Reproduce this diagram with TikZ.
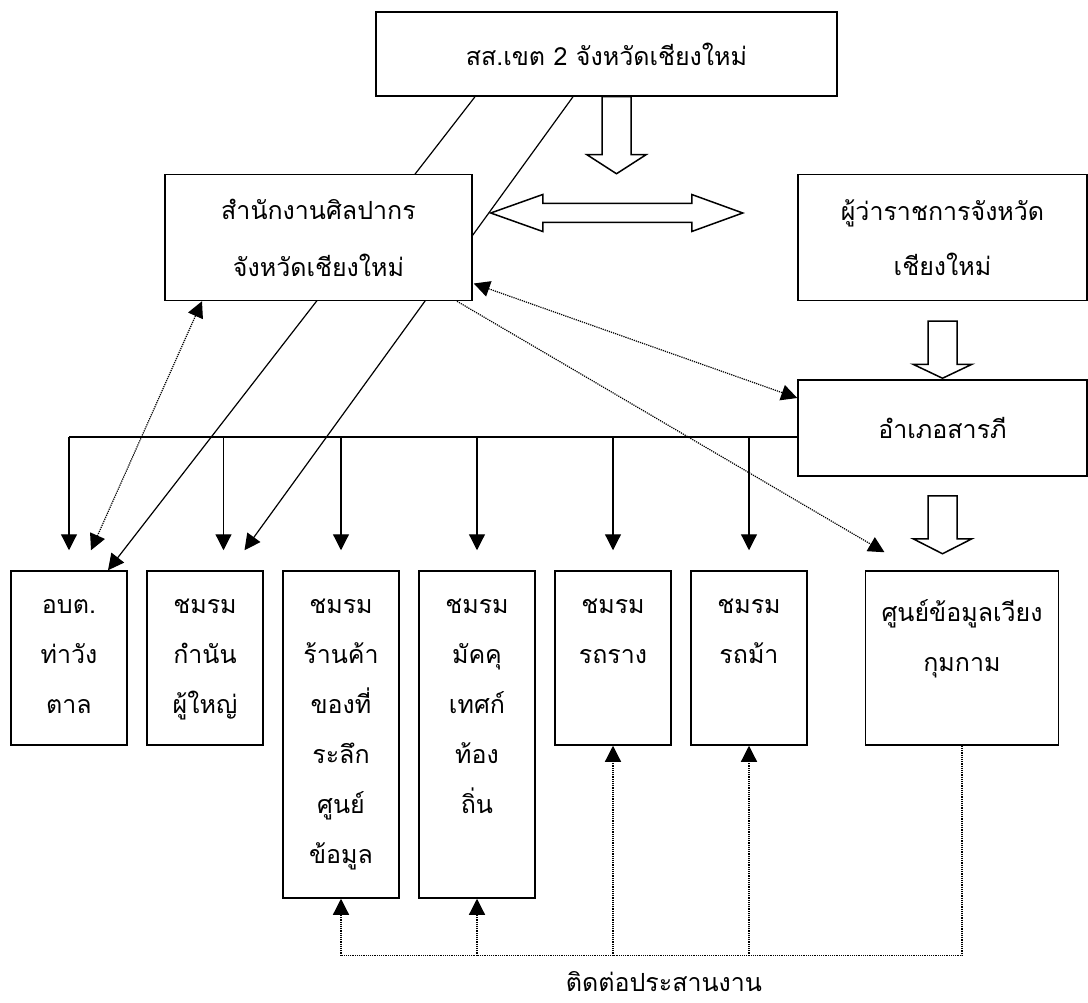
\documentclass[tikz,border=0pt]{standalone}
\usepackage{fontspec}
\newfontfamily\thaifont[Script=Thai]{Loma}
\usetikzlibrary{positioning, arrows.meta, backgrounds, calc}

\tikzset{
  box/.style={draw, line width=1.5pt, fill=white, align=center},
  club/.style={box, minimum width=116pt, minimum height=174pt, anchor=north},
  tallclub/.style={club, minimum height=327pt},
  clubtext/.style={anchor=north, align=center, inner sep=0pt, yshift=-29pt},
  link/.style={line width=1.2pt, ->},
  drop/.style={link, shorten >=20pt},
  coord/.style={line width=1.2pt, densely dotted},
  block/.style={draw, line width=1.5pt, fill=white},
}

\begin{document}
\begin{tikzpicture}[>={Triangle[length=16pt, width=16pt]}, font=\thaifont\fontsize{25}{50}\selectfont]
    \useasboundingbox (0,0) rectangle (1088pt,-1003pt);

    \node[box, minimum width=461pt, minimum height=84pt] (sso) at (606.5pt,-54pt) {สส.เขต 2 จังหวัดเชียงใหม่};

    \node[box, minimum width=307pt, minimum height=126pt, below=77pt of sso, xshift=-288pt, font=\thaifont\fontsize{25}{57}\selectfont] (office) {สำนักงานศิลปากร\\จังหวัดเชียงใหม่};
    \node[box, minimum width=289pt, minimum height=126pt, below=77pt of sso, xshift=336pt, font=\thaifont\fontsize{25}{55}\selectfont] (governor) {ผู้ว่าราชการจังหวัด\\เชียงใหม่};
    \node[box, minimum width=289pt, minimum height=96pt, below=78pt of governor] (district) {อำเภอสารภี};

    \node[club, below=269pt of office, xshift=-249.5pt, label={[clubtext]north:อบต.\\ท่าวัง\\ตาล}] (obt) {};
    \node[club, right=18.5pt of obt.north east, anchor=north west, label={[clubtext]north:ชมรม\\กำนัน\\ผู้ใหญ่}] (kamnan) {};
    \node[tallclub, right=18.5pt of kamnan.north east, anchor=north west, label={[clubtext]north:ชมรม\\ร้านค้า\\ของที่\\ระลึก\\ศูนย์\\ข้อมูล}] (shop) {};
    \node[tallclub, right=18.5pt of shop.north east, anchor=north west, label={[clubtext]north:ชมรม\\มัคคุ\\เทศก์\\ท้อง\\ถิ่น}] (guide) {};
    \node[club, right=18.5pt of guide.north east, anchor=north west, label={[clubtext]north:ชมรม\\รถราง}] (tram) {};
    \node[club, right=18.5pt of tram.north east, anchor=north west, label={[clubtext]north:ชมรม\\รถม้า}] (carriage) {};
    \node[club, minimum width=193pt, right=57pt of carriage.north east, anchor=north west, label={[clubtext]north:ศูนย์ข้อมูลเวียง\\กุมกาม}] (center) {};

    % lines from the district office that run behind the fine arts office
    \begin{scope}[on background layer]
    \draw[link] ($(sso.south)+(-131.5pt,0)$) -- ($(obt.north)+(39pt,0)$);
    \draw[link] ($(sso.south)+(-33.5pt,0)$) -- ($(kamnan.north)+(39.5pt,20pt)$);
    \end{scope}

    % block arrows
    \draw[block] ($(sso.south)+(-4.5pt,0)$) -- ++(0,-58pt) -- ++(-15pt,0) -- ++(29.5pt,-19pt) -- ++(29.5pt,19pt) -- ++(-15pt,0) -- ++(0,58pt) -- cycle;
    \draw[block] ($(governor.south)+(-14.5pt,-20pt)$) -- ++(0,-43pt) -- ++(-15pt,0) -- ++(29.5pt,-14pt) -- ++(29.5pt,14pt) -- ++(-15pt,0) -- ++(0,43pt) -- cycle;
    \draw[block] ($(district.south)+(-14.5pt,-19pt)$) -- ++(0,-43pt) -- ++(-15pt,0) -- ++(29.5pt,-15pt) -- ++(29.5pt,15pt) -- ++(-15pt,0) -- ++(0,43pt) -- cycle;
    \draw[block] ($(office.east)+(18pt,24.5pt)$) -- ++(52pt,18.5pt) -- ++(0,-9pt) -- ++(149pt,0) -- ++(0,9pt) -- ++(51pt,-18.5pt) -- ++(-51pt,-18.5pt) -- ++(0,9pt) -- ++(-149pt,0) -- ++(0,-9pt) -- cycle;

    % district bus
    \coordinate[below=9pt of district.west] (bus);
    \draw[line width=1.2pt] (bus) -- (bus -| obt.north);
    \draw[drop] (bus -| obt.north) -- (obt.north);
    \draw[drop] ($(bus -| kamnan.north)+(18.5pt,0)$) -- ($(kamnan.north)+(18.5pt,0)$);
    \draw[drop] (bus -| shop.north) -- (shop.north);
    \draw[drop] (bus -| guide.north) -- (guide.north);
    \draw[drop] (bus -| tram.north) -- (tram.north);
    \draw[drop] (bus -| carriage.north) -- (carriage.north);

    % dotted links
    \draw[coord, <->] ($(obt.north)+(22pt,20pt)$) -- ($(office.south)+(-116.5pt,0)$);
    \draw[coord, <->] ($(office.east)+(1pt,-46pt)$) -- ($(district.west)+(0,30pt)$);
    \draw[coord, ->] ($(office.south)+(138.5pt,0)$) -- ($(center.north)+(-77.5pt,18pt)$);

    % coordination
    \coordinate[below=210pt of center.south] (meet);
    \draw[coord] (center.south) -- (meet) -- (meet -| shop.south);
    \draw[coord, ->] (meet -| shop.south) -- (shop.south);
    \draw[coord, ->] (meet -| guide.south) -- (guide.south);
    \draw[coord, ->] (meet -| tram.south) -- (tram.south);
    \draw[coord, ->] (meet -| carriage.south) -- (carriage.south);
    \node[below=13pt of meet, xshift=-298pt, inner sep=2pt] (meet-label) {ติดต่อประสานงาน};
\end{tikzpicture}
\end{document}
